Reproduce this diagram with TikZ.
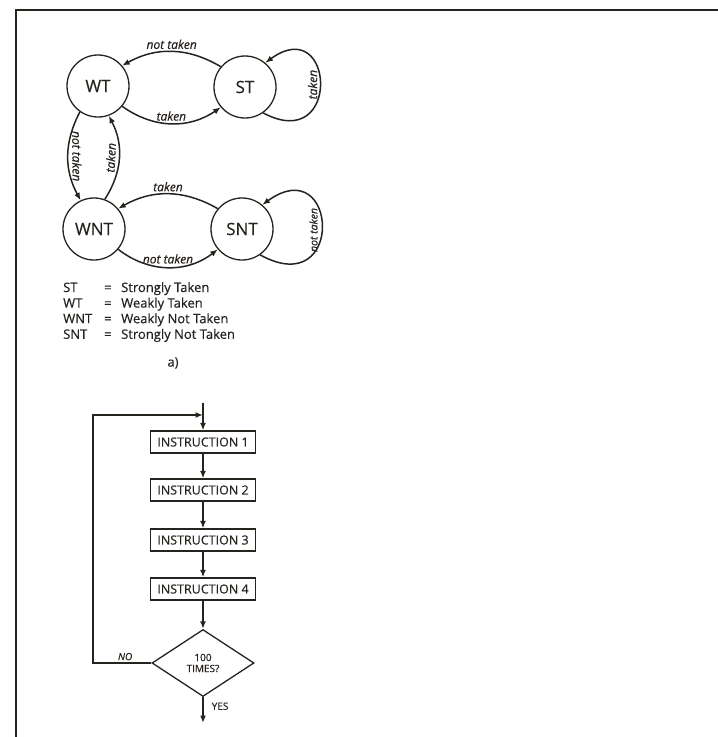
\documentclass[tikz,border=0pt]{standalone}
\usepackage{fontspec}
\setmainfont{Open Sans}[FakeBold=0.4]
\usetikzlibrary{arrows.meta,shapes.geometric}
\definecolor{tinta}{RGB}{38,34,30}
\tikzset{
  estado/.style={draw=tinta, circle, minimum size=62pt, inner sep=0pt, line width=1.3pt, text=tinta, font=\fontsize{17}{17}\selectfont},
  instr/.style={draw=tinta, rectangle, minimum width=105pt, minimum height=22pt, inner sep=0pt, line width=1.3pt, text=tinta, font=\fontsize{12.5}{13}\selectfont},
  decis/.style={draw=tinta, diamond, minimum width=102pt, minimum height=67pt, inner sep=0pt, line width=1.3pt, align=center, text=tinta, font=\fontsize{10}{11}\selectfont},
  fl/.style={-{Latex[length=7.5pt,width=6pt]}, line width=1.5pt, tinta},
  et/.style={font=\itshape\fontsize{12}{12}\selectfont, text=tinta, inner sep=2pt},
  ley/.style={anchor=base west, text=tinta, font=\fontsize{13}{13}\selectfont, inner sep=0pt},
  rot/.style={text=tinta, font=\fontsize{10}{10}\selectfont, inner sep=2pt},
}
\begin{document}
\begin{tikzpicture}[x=1pt,y=1pt]
  \useasboundingbox (0,0) rectangle (718,-737);
  % marco
  \draw[tinta, line width=1.4pt] (16,-737) -- (16,-10) -- (718,-10);

  % a) diagrama de estados
  \node[estado] (wt)  at (98,-86)  {WT};
  \node[estado] (st)  at (245,-87) {ST};
  \node[estado] (wnt) at (94,-229) {WNT};
  \node[estado] (snt) at (242,-229) {SNT};

  \draw[fl] (st.140) to[bend right=30] node[et, above]{not taken} (wt.40);
  \draw[fl] (wt.-40) to[bend right=35] node[et, above]{taken} (st.-140);
  \draw[fl] (st.-55) .. controls (342,-155) and (335,-12) .. node[et, rotate=90, anchor=south]{taken} (st.50);

  \draw[fl] (wt.-125) to[bend right=28] node[et, sloped, above=1.5pt]{not taken} (wnt.115);
  \draw[fl] (wnt.70) to[bend right=30] node[et, sloped, above=1pt]{taken} (wt.-70);

  \draw[fl] (snt.140) to[bend right=30] node[et, above]{taken} (wnt.40);
  \draw[fl] (wnt.-40) to[bend right=38] node[et, above=1pt]{not taken} (snt.-140);
  \draw[fl] (snt.-55) .. controls (346,-302) and (338,-150) .. node[et, rotate=90, anchor=south, pos=0.48, inner sep=3.5pt, font=\itshape\fontsize{10.5}{11}\selectfont]{not taken} (snt.50);

  % leyenda
  \foreach \ab/\txt [count=\i] in {ST/Strongly Taken, WT/Weakly Taken, WNT/Weakly Not Taken, SNT/Strongly Not Taken}{
    \node[ley] (ab\i) at (63,-292-15.6*\i+15.6) {\ab};
    \node[ley] (ig\i) at (104,-292-15.6*\i+15.6) {=};
    \node[ley] (tx\i) at (121,-292-15.6*\i+15.6) {\txt};
  }
  \node[ley, anchor=center] (cap) at (173,-363) {a)};

  % diagrama de flujo
  \coordinate (entrada) at (203,-403);
  \coordinate (union) at (203,-415);
  \coordinate (esq) at (93,-415);
  \coordinate (salida) at (203,-723);
  \node[instr] (i1) at (203,-442) {INSTRUCTION 1};
  \node[instr] (i2) at (203,-490) {INSTRUCTION 2};
  \node[instr] (i3) at (203,-540) {INSTRUCTION 3};
  \node[instr] (i4) at (203,-589) {INSTRUCTION 4};
  \node[decis] (dec) at (203,-663) {100\\TIMES?};

  \draw[fl] (entrada) -- (i1);
  \draw[fl] (i1) -- (i2);
  \draw[fl] (i2) -- (i3);
  \draw[fl] (i3) -- (i4);
  \draw[fl] (i4) -- (dec);
  \draw[fl] (dec.west) -- node[rot, above, font=\itshape\fontsize{10}{10}\selectfont, pos=0.45]{NO} (dec.west -| esq) -- (esq) -- (union);
  \draw[fl] (dec.south) -- node[rot, right=6pt, pos=0.35]{YES} (salida);
\end{tikzpicture}
\end{document}
